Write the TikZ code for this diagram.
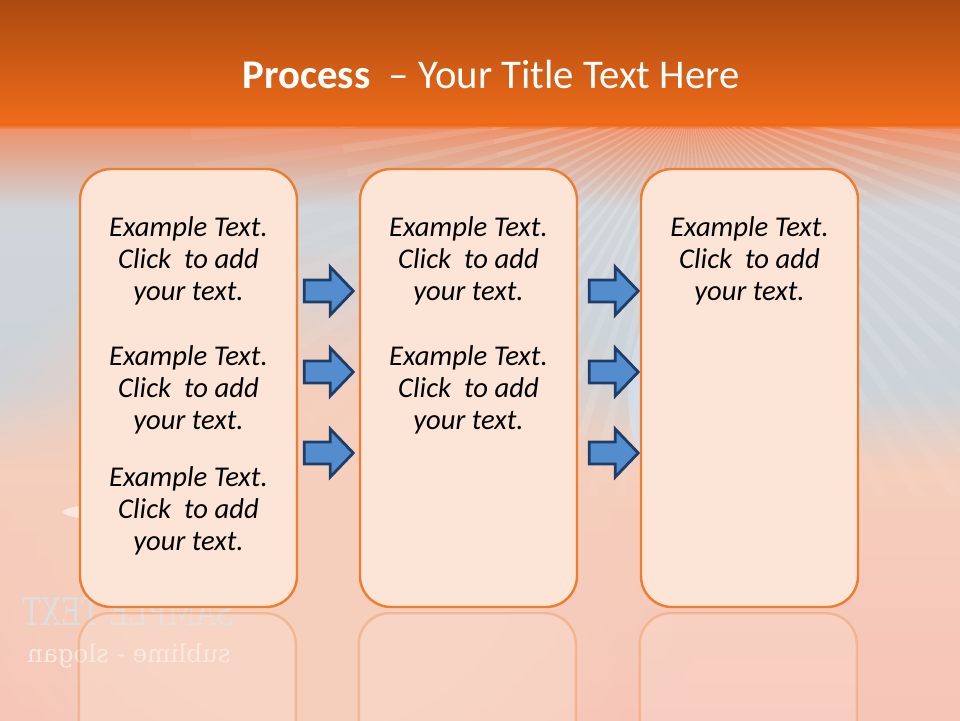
\documentclass[tikz,border=0pt]{standalone}
\usepackage{fontspec}
\setmainfont{Carlito}
\newfontfamily\slabfont{DejaVu Serif}
\usepackage{xcolor}
\usetikzlibrary{
arrows.meta,
positioning,
calc,
fadings
}
\definecolor{prochead}{RGB}{172,74,16}
\definecolor{procorange}{RGB}{240,108,26}
\definecolor{procsalmon}{RGB}{236,148,110}
\definecolor{procgray}{RGB}{208,213,218}
\definecolor{procgrayb}{RGB}{204,211,217}
\definecolor{procpeach}{RGB}{245,206,188}
\definecolor{procpink}{RGB}{247,196,184}
\definecolor{procbox}{RGB}{252,228,214}
\definecolor{procedge}{RGB}{237,125,49}
\definecolor{procblue}{RGB}{84,141,206}
\definecolor{procnavy}{RGB}{30,62,105}
\definecolor{procsky}{RGB}{214,226,240}
\definecolor{procmist}{RGB}{222,222,224}

\pgfdeclareradialshading{glowshade}{\pgfpointorigin}{%
  color(0bp)=(transparent!0); color(13bp)=(transparent!0);
  color(25bp)=(transparent!100); color(50bp)=(transparent!100)}
\pgfdeclarefading{glowfade}{\pgfuseshading{glowshade}}

\begin{document}
\begin{tikzpicture}[
  stagebox/.style={draw=procedge, line width=1.4pt, fill=procbox,
    rounded corners=0.62cm, minimum width=4.34cm, minimum height=8.76cm,
    inner sep=0pt},
  mirrorbox/.style={draw=procedge, draw opacity=0.3, line width=1.4pt,
    fill=procbox, fill opacity=0.3, rounded corners=0.62cm},
  flowarrow/.style={draw=procnavy, line width=1.6pt, fill=procblue,
    line join=miter},
  exampletext/.style={font=\fontsize{16.3}{18.2}\selectfont\itshape,
    align=center, text=black, inner sep=0pt}
]

\useasboundingbox (0,0) rectangle (19.2,14.4);

%% ── BACKGROUND ──────────────────────────────────────────────────
\fill[top color=prochead, bottom color=procorange] (0,11.9) rectangle (19.2,14.4);
\fill[top color=procorange, bottom color=procsalmon] (0,11.8) rectangle (19.2,11.9);
\fill[top color=procsalmon, bottom color=procgray] (0,10.2) rectangle (19.2,11.8);
\fill[top color=procgray, bottom color=procgrayb] (0,6.6) rectangle (19.2,10.2);
\fill[top color=procgrayb, bottom color=procpeach] (0,5.0) rectangle (19.2,6.6);
\fill[top color=procpeach, bottom color=procpink] (0,0) rectangle (19.2,5.0);

%% peach glow behind the middle
\fill[procpeach, path fading=glowfade] (6.2,3.2) ellipse (8.0 and 6.6);

%% light rays (fading out in three steps)
\begin{scope}
  \clip (0,4.5) rectangle (19.2,11.85);
  \foreach \a in {184,188,...,356}{
    \foreach \ra/\rb/\op in {0/4/0.18, 4/7/0.11, 7/10/0.05}{
      \fill[white, opacity=\op, shift={(13.8,12.4)}]
        ({\a-0.7}:\ra) -- ({\a-0.7}:\rb) -- ({\a+0.7}:\rb)
        -- ({\a+0.7}:\ra) -- cycle;
    }
  }
\end{scope}

%% disc edges
\begin{scope}
  \clip (0,0) rectangle (12.9,14.4);
  \fill[procsky, opacity=0.7] (16.0,6.5) circle (3.44);
\end{scope}
\fill[white, opacity=0.55] (3.6,4.16) ellipse (2.34 and 0.24);

%% mirrored slogan
\node[font=\slabfont\fontsize{16}{16}\selectfont, text=procmist]
  (sample) at (2.58,2.16) {\scalebox{-1}[1.35]{SAMPLE TEXT}};
\node[font=\slabfont\fontsize{14}{14}\selectfont, text=white, opacity=0.6]
  (slogan) at (2.58,1.28) {\scalebox{-1}[1]{sublime - slogan}};

%% ── STAGES ──────────────────────────────────────────────────────
\node[stagebox] (box1) at (3.77,6.64) {};
\node[stagebox] (box2) at (9.37,6.64) {};
\node[stagebox] (box3) at (14.99,6.64) {};

%% reflections
\foreach \b in {box1, box2, box3}{
  \draw[mirrorbox] ($(\b.south west)+(0,-0.1)$) rectangle ++(4.34,-8.76);
}

%% ── ARROWS ──────────────────────────────────────────────────────
\foreach \src/\gap in {box1/0.12, box2/0.22}{
  \foreach \dy in {1.94, 0.32, -1.30}{
    \draw[flowarrow] ($(\src.east)+({\gap},{\dy-0.22})$)
      -- ++(0.52,0) -- ++(0,-0.26) -- ++(0.46,0.48)
      -- ++(-0.46,0.48) -- ++(0,-0.26) -- ++(-0.52,0) -- cycle;
  }
}

%% ── TEXTS ───────────────────────────────────────────────────────
\node[exampletext] (t1a) at ($(box1.center)+(0,2.54)$)
  {Example Text.\\Click\ \ to add\\your text.};
\node[exampletext] (t1b) at ($(box1.center)+(0,-0.04)$)
  {Example Text.\\Click\ \ to add\\your text.};
\node[exampletext] (t1c) at ($(box1.center)+(0,-2.46)$)
  {Example Text.\\Click\ \ to add\\your text.};

\node[exampletext] (t2a) at ($(box2.center)+(0,2.54)$)
  {Example Text.\\Click\ \ to add\\your text.};
\node[exampletext] (t2b) at ($(box2.center)+(0,-0.04)$)
  {Example Text.\\Click\ \ to add\\your text.};

\node[exampletext] (t3a) at ($(box3.center)+(0,2.54)$)
  {Example Text.\\Click\ \ to add\\your text.};

%% ── TITLE ───────────────────────────────────────────────────────
\node[font=\fontsize{23.2}{27}\selectfont, text=white] (title) at (9.82,12.9)
  {\textbf{Process}\ \ – Your Title Text Here};

\end{tikzpicture}
\end{document}
